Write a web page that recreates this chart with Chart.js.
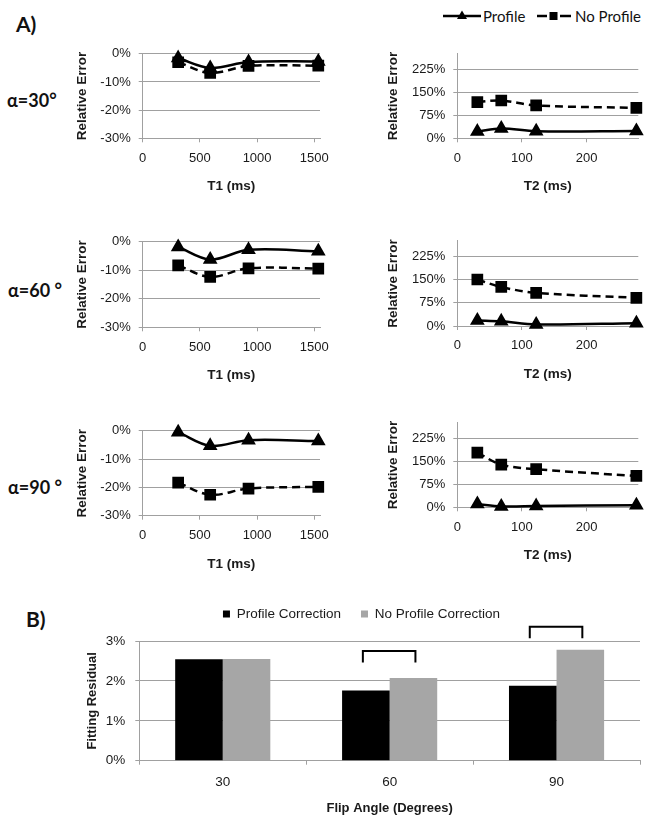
<!DOCTYPE html>
<html>
<head>
<meta charset="utf-8">
<script src="https://cdn.jsdelivr.net/npm/chart.js@4.4.1/dist/chart.umd.min.js"></script>
<style>
  body { margin: 0; background: #fff; width: 653px; height: 826px; position: relative; overflow: hidden; }
  canvas, .lbl, .sym { position: absolute; }
  .lbl { font-family: Lato, 'Liberation Sans', sans-serif; color: #111; white-space: nowrap; transform: translateY(-50%); }
  .big { font-weight: bold; }
</style>
</head>
<body>
<div class="lbl big" style="left:16px;top:23px;font-size:21px">A)</div>
<div class="lbl big" style="left:7px;top:100px;font-size:18px">α=30°</div>
<div class="lbl big" style="left:8px;top:290px;font-size:18px">α=60 °</div>
<div class="lbl big" style="left:8px;top:487px;font-size:18px">α=90 °</div>
<div class="lbl big" style="left:26px;top:618px;font-size:21px">B)</div>

<svg class="sym" style="left:443px;top:9px" width="38" height="14">
  <line x1="0" y1="7" x2="38" y2="7" stroke="#000" stroke-width="2.5"/>
  <polygon points="19,1.5 24,10 14,10" fill="#000"/>
</svg>
<div class="lbl" style="left:483px;top:16px;font-size:15px">Profile</div>
<svg class="sym" style="left:537px;top:9px" width="34" height="14">
  <line x1="0" y1="7" x2="10" y2="7" stroke="#000" stroke-width="2.5"/>
  <line x1="23" y1="7" x2="34" y2="7" stroke="#000" stroke-width="2.5"/>
  <rect x="12.5" y="3" width="8" height="8" fill="#000"/>
</svg>
<div class="lbl" style="left:575px;top:16px;font-size:15px">No Profile</div>

<canvas id="l30"></canvas>
<canvas id="r30"></canvas>
<canvas id="l60"></canvas>
<canvas id="r60"></canvas>
<canvas id="l90"></canvas>
<canvas id="r90"></canvas>
<canvas id="bars"></canvas>

<script>
// T1 / T2 sample values (ms)
const t1 = [310, 590, 925, 1535];
const t2 = [31, 68, 122, 277];
const t1Ticks = [0, 500, 1000, 1500];
const t2Ticks = [0, 100, 200];
const t1ErrTicks = [-30, -20, -10, 0];
const t2ErrTicks = [0, 75, 150, 225];

// relative error (%)
const t1Profile30 = [-1.5, -5.0, -2.9, -2.7];
const t1NoProfile30 = [-3.0, -6.8, -4.3, -4.2];
const t1Profile60 = [-1.8, -6.2, -2.8, -3.3];
const t1NoProfile60 = [-8.3, -12.3, -9.3, -9.4];
const t1Profile90 = [-0.5, -5.3, -3.3, -3.6];
const t1NoProfile90 = [-18.3, -22.6, -20.4, -19.8];
const t2Profile30 = [22, 32, 23, 24];
const t2NoProfile30 = [118, 123, 107, 99];
const t2Profile60 = [18, 15, 5, 9];
const t2NoProfile60 = [150, 126, 107, 91];
const t2Profile90 = [11, 3, 4, 7];
const t2NoProfile90 = [178, 139, 124, 102];

// part B: fitting residual (%)
const flipAngles = ['30', '60', '90'];
const residualProfile = [2.54, 1.76, 1.88];
const residualNoProfile = [2.55, 2.07, 2.78];
const residualTicks = [0, 1, 2, 3];
const bracketTop = [null, 2.75, 3.36];
const bracketFoot = [null, 2.46, 3.07];

const gridC = '#a0a0a0';
Chart.defaults.font.family = "'Liberation Sans', Arial, sans-serif";
Chart.defaults.color = '#1a1a1a';

function place(cv, l, t, w, h) {
  cv.width = w; cv.height = h;
  cv.style.left = l + 'px'; cv.style.top = t + 'px';
  cv.style.width = w + 'px'; cv.style.height = h + 'px';
}

function linePanel(id, plot, canvasL, canvasR, xs, prof, noProf, xMax, xTicks, yMin, yMax, yTicks, xTitle) {
  const cv = document.getElementById(id);
  const xH = 56.5;
  const ct = Math.round(plot.t - 14);
  const ch = Math.ceil(plot.b + xH + 4 - ct);
  place(cv, canvasL, ct, canvasR - canvasL, ch);
  const padTop = plot.t - ct;
  const padBottom = ch - padTop - (plot.b - plot.t) - xH;
  const yW = plot.l - canvasL;

  new Chart(cv, {
    type: 'line',
    data: {
      datasets: [{
        data: xs.map((x, i) => ({ x, y: prof[i] })),
        borderColor: '#000',
        backgroundColor: '#000',
        borderWidth: 2.5,
        pointStyle: 'triangle',
        pointRadius: 6,
        tension: 0.35,
        clip: false
      }, {
        data: xs.map((x, i) => ({ x, y: noProf[i] })),
        borderColor: '#000',
        backgroundColor: '#000',
        borderWidth: 2.5,
        borderDash: [8, 5],
        pointStyle: 'rect',
        pointRadius: 6.5,
        tension: 0.35,
        clip: false
      }]
    },
    options: {
      responsive: false,
      animation: false,
      events: [],
      layout: { padding: { left: 0, right: canvasR - plot.r, top: padTop, bottom: padBottom } },
      plugins: { legend: { display: false }, tooltip: { enabled: false } },
      scales: {
        x: {
          type: 'linear', min: 0, max: xMax,
          afterBuildTicks: s => { s.ticks = xTicks.map(v => ({ value: v })); },
          afterFit: s => { s.height = xH; },
          grid: { drawOnChartArea: false, color: gridC, tickLength: 4 },
          border: { color: gridC },
          ticks: { font: { size: 13 }, padding: 8, callback: v => String(v) },
          title: { display: true, text: xTitle, font: { size: 13.5, weight: 'bold' }, padding: 0 }
        },
        y: {
          min: yMin, max: yMax,
          afterBuildTicks: s => { s.ticks = yTicks.map(v => ({ value: v })); },
          afterFit: s => { s.width = yW; },
          grid: { color: gridC, tickLength: 4 },
          border: { color: gridC },
          ticks: { font: { size: 13 }, padding: 8, callback: v => v + '%' },
          title: { display: true, text: 'Relative Error', font: { size: 13.5, weight: 'bold' }, padding: 0 }
        }
      }
    }
  });
}

const LL = 74, LR = 340, RL = 385, RR = 653;
linePanel('l30', { l: 142.7, r: 320, t: 51.7, b: 138.3 }, LL, LR, t1, t1Profile30, t1NoProfile30, 1550, t1Ticks, -30, 0, t1ErrTicks, 'T1 (ms)');
linePanel('l60', { l: 142.7, r: 320, t: 240, b: 327.3 }, LL, LR, t1, t1Profile60, t1NoProfile60, 1550, t1Ticks, -30, 0, t1ErrTicks, 'T1 (ms)');
linePanel('l90', { l: 142.7, r: 320, t: 429, b: 515.7 }, LL, LR, t1, t1Profile90, t1NoProfile90, 1550, t1Ticks, -30, 0, t1ErrTicks, 'T1 (ms)');
linePanel('r30', { l: 457.3, r: 638.3, t: 51.7, b: 138.3 }, RL, RR, t2, t2Profile30, t2NoProfile30, 280, t2Ticks, 0, 275, t2ErrTicks, 'T2 (ms)');
linePanel('r60', { l: 457.3, r: 638.3, t: 239.3, b: 326 }, RL, RR, t2, t2Profile60, t2NoProfile60, 280, t2Ticks, 0, 275, t2ErrTicks, 'T2 (ms)');
linePanel('r90', { l: 457.3, r: 638.3, t: 420.6, b: 507.3 }, RL, RR, t2, t2Profile90, t2NoProfile90, 280, t2Ticks, 0, 275, t2ErrTicks, 'T2 (ms)');

// part B
const legendGap = {
  id: 'legendGap',
  afterInit(chart) {
    const lg = chart.legend;
    const fit = lg.fit;
    lg.fit = function () { fit.call(this); this.height += 10.25; };
  }
};

const brackets = {
  id: 'brackets',
  afterDatasetsDraw(chart) {
    const { ctx, scales: { y } } = chart;
    const a = chart.getDatasetMeta(0).data, b = chart.getDatasetMeta(1).data;
    ctx.save();
    ctx.strokeStyle = '#000';
    ctx.lineWidth = 2;
    bracketTop.forEach((top, i) => {
      if (top == null) return;
      const x0 = a[i].x - 3, x1 = b[i].x + 2;
      const yt = y.getPixelForValue(top), yf = y.getPixelForValue(bracketFoot[i]);
      ctx.beginPath();
      ctx.moveTo(x0, yf); ctx.lineTo(x0, yt); ctx.lineTo(x1, yt); ctx.lineTo(x1, yf);
      ctx.stroke();
    });
    ctx.restore();
  }
};

const bcv = document.getElementById('bars');
place(bcv, 60, 585, 593, 241);
new Chart(bcv, {
  type: 'bar',
  data: {
    labels: flipAngles,
    datasets: [
      { label: 'Profile Correction', data: residualProfile, backgroundColor: '#000' },
      { label: 'No Profile Correction', data: residualNoProfile, backgroundColor: '#a6a6a6' }
    ]
  },
  options: {
    responsive: false,
    animation: false,
    events: [],
    layout: { padding: { left: 23, right: 13, top: 2.25, bottom: 9.9 } },
    datasets: { bar: { categoryPercentage: 0.57, barPercentage: 1 } },
    plugins: {
      legend: { labels: { boxWidth: 7, boxHeight: 7, padding: 20, font: { size: 13.5 } } },
      tooltip: { enabled: false }
    },
    scales: {
      x: {
        afterFit: s => { s.height = 55.4; },
        grid: { drawOnChartArea: false, color: gridC, tickLength: 4 },
        border: { color: gridC },
        ticks: { font: { size: 13.5 }, padding: 9.2 },
        title: { display: true, text: 'Flip Angle (Degrees)', font: { size: 13, weight: 'bold' }, padding: 0 }
      },
      y: {
        min: 0, max: 3,
        afterBuildTicks: s => { s.ticks = residualTicks.map(v => ({ value: v })); },
        afterFit: s => { s.width = 56.3; },
        grid: { color: gridC, tickLength: 4 },
        border: { color: gridC },
        ticks: { font: { size: 13.5 }, padding: 10, callback: v => v + '%' },
        title: { display: true, text: 'Fitting Residual', font: { size: 13, weight: 'bold' }, padding: { top: 1.2, bottom: 0 } }
      }
    }
  },
  plugins: [legendGap, brackets]
});
</script>
</body>
</html>
